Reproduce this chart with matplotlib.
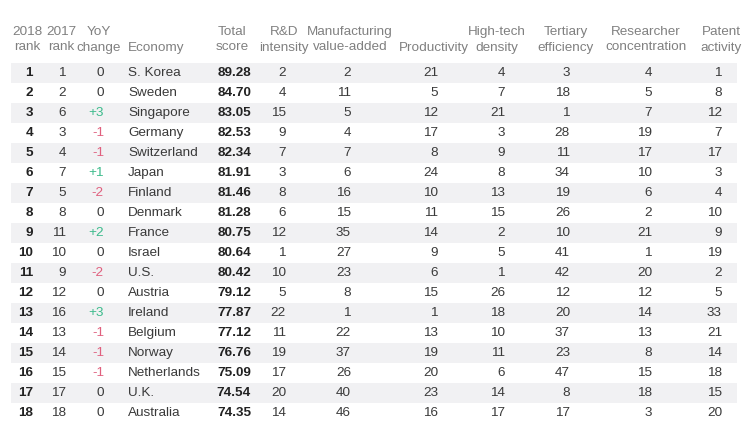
import matplotlib.pyplot as plt
from matplotlib.patches import Rectangle

plt.rcParams['font.family'] = ['Liberation Sans', 'DejaVu Sans']

rank_2018 = list(range(1, 19))
rank_2017 = [1, 2, 6, 3, 4, 7, 5, 8, 11, 10, 9, 12, 16, 13, 14, 15, 17, 18]
yoy = [0, 0, 3, -1, -1, 1, -2, 0, 2, 0, -2, 0, 3, -1, -1, -1, 0, 0]
economy = ['S. Korea', 'Sweden', 'Singapore', 'Germany', 'Switzerland', 'Japan',
           'Finland', 'Denmark', 'France', 'Israel', 'U.S.', 'Austria', 'Ireland',
           'Belgium', 'Norway', 'Netherlands', 'U.K.', 'Australia']
total_score = [89.28, 84.70, 83.05, 82.53, 82.34, 81.91, 81.46, 81.28, 80.75,
               80.64, 80.42, 79.12, 77.87, 77.12, 76.76, 75.09, 74.54, 74.35]
rd_intensity = [2, 4, 15, 9, 7, 3, 8, 6, 12, 1, 10, 5, 22, 11, 19, 17, 20, 14]
manufacturing = [2, 11, 5, 4, 7, 6, 16, 15, 35, 27, 23, 8, 1, 22, 37, 26, 40, 46]
productivity = [21, 5, 12, 17, 8, 24, 10, 11, 14, 9, 6, 15, 1, 13, 19, 20, 23, 16]
hightech = [4, 7, 21, 3, 9, 8, 13, 15, 2, 5, 1, 26, 18, 10, 11, 6, 14, 17]
tertiary = [3, 18, 1, 28, 11, 34, 19, 26, 10, 41, 42, 12, 20, 37, 23, 47, 8, 17]
researcher = [4, 5, 7, 19, 17, 10, 6, 2, 21, 1, 20, 12, 14, 13, 8, 15, 18, 3]
patent = [1, 8, 12, 7, 17, 3, 4, 10, 9, 19, 2, 5, 33, 21, 14, 18, 15, 20]

headers = ['2018\nrank', '2017\nrank', 'YoY\nchange', 'Economy', 'Total\nscore',
           'R&D\nintensity', 'Manufacturing\nvalue-added', 'Productivity',
           'High-tech\ndensity', 'Tertiary\nefficiency', 'Researcher\nconcentration',
           'Patent\nactivity']

# layout (pixels)
W, H = 754, 436
col_x = [33, 66, 104, 128, 251, 286, 351, 438, 505, 570, 652, 722]
col_ha = ['right', 'right', 'right', 'left', 'right', 'right', 'right', 'right',
          'right', 'right', 'right', 'right']
head_x = [27, 61, 99, 128, 232, 284, 350, 434, 497, 566, 646, 721]
head_ha = ['center'] * 3 + ['left'] + ['center'] * 8
row0, row_h = 73, 20
fs = 9.7

fig = plt.figure(figsize=(W / 100, H / 100), dpi=100)
ax = fig.add_axes([0, 0, 1, 1])
ax.set_xlim(0, W)
ax.set_ylim(H, 0)
ax.axis('off')

head_color = '#808080'
text_color = '#3a3a3a'
bold_color = '#222222'
green = '#3dbb8c'
red = '#e0607e'

for x, ha, h in zip(head_x, head_ha, headers):
    ax.text(x, 50.5, h, ha=ha, va='baseline', fontsize=fs, color=head_color,
            linespacing=1.35)

for i in range(len(economy)):
    y = row0 + i * row_h
    if i % 2 == 0:
        ax.add_patch(Rectangle((11, y - row_h / 2), 726, row_h,
                               color='#f1f1f3', lw=0, zorder=0))
    d = yoy[i]
    yoy_txt = f'+{d}' if d > 0 else str(d)
    yoy_col = green if d > 0 else (red if d < 0 else text_color)
    vals = [str(rank_2018[i]), str(rank_2017[i]), yoy_txt, economy[i],
            f'{total_score[i]:.2f}', str(rd_intensity[i]), str(manufacturing[i]),
            str(productivity[i]), str(hightech[i]), str(tertiary[i]),
            str(researcher[i]), str(patent[i])]
    for j, v in enumerate(vals):
        bold = j in (0, 4)
        c = bold_color if bold else (yoy_col if j == 2 else text_color)
        ax.text(col_x[j], y, v, ha=col_ha[j], va='center', fontsize=fs,
                color=c, fontweight='bold' if bold else 'normal')

fig.savefig('out.png', dpi=100, facecolor='white')
